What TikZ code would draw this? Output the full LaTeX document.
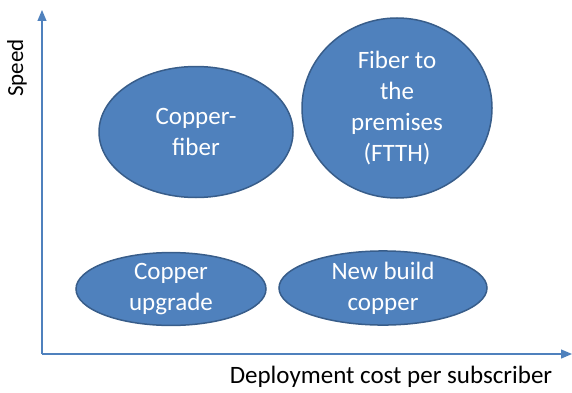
\documentclass[tikz,border=0pt]{standalone}
\usepackage{fontspec}
\setmainfont{Carlito}
\usetikzlibrary{shapes.geometric,arrows.meta}
\definecolor{bubble}{RGB}{79,129,189}
\definecolor{bubbleedge}{RGB}{56,93,138}
\definecolor{axis}{RGB}{79,129,189}
\tikzset{
  bubblestyle/.style={ellipse, fill=bubble, draw=bubbleedge, line width=1.5pt,
    text=white, font=\fontsize{25}{31}\selectfont, align=center, inner sep=0pt},
  axisline/.style={draw=axis, line width=1.2pt, -{Triangle[length=11pt,width=9pt]}},
  axislabel/.style={font=\fontsize{25}{30}\selectfont, text=black}
}
\begin{document}
\begin{tikzpicture}[x=1pt,y=1pt]
\useasboundingbox (0,0) rectangle (572,392);
\coordinate (origin) at (42,38);
\coordinate (ytip) at (42,382);
\coordinate (xtip) at (572,38);
\draw[axisline] (origin) -- (ytip);
\draw[axisline] (origin) -- (xtip);
\node[bubblestyle, minimum width=194pt, minimum height=131pt] (cf) at (196,260) {Copper-\\fiber};
\node[bubblestyle, minimum width=190pt, minimum height=180pt] (ftth) at (397,284) {Fiber to\\the\\premises\\(FTTH)};
\node[bubblestyle, minimum width=190pt, minimum height=71pt] (cu) at (171,103) {Copper\\upgrade};
\node[bubblestyle, minimum width=208pt, minimum height=72pt] (nb) at (383,104) {New build\\copper};
\node[axislabel, anchor=base] (xl) at (391,9) {Deployment cost per subscriber};
\node[axislabel, font=\fontsize{23}{28}\selectfont, rotate=90] (yl) at (17,324) {Speed};
\end{tikzpicture}
\end{document}
